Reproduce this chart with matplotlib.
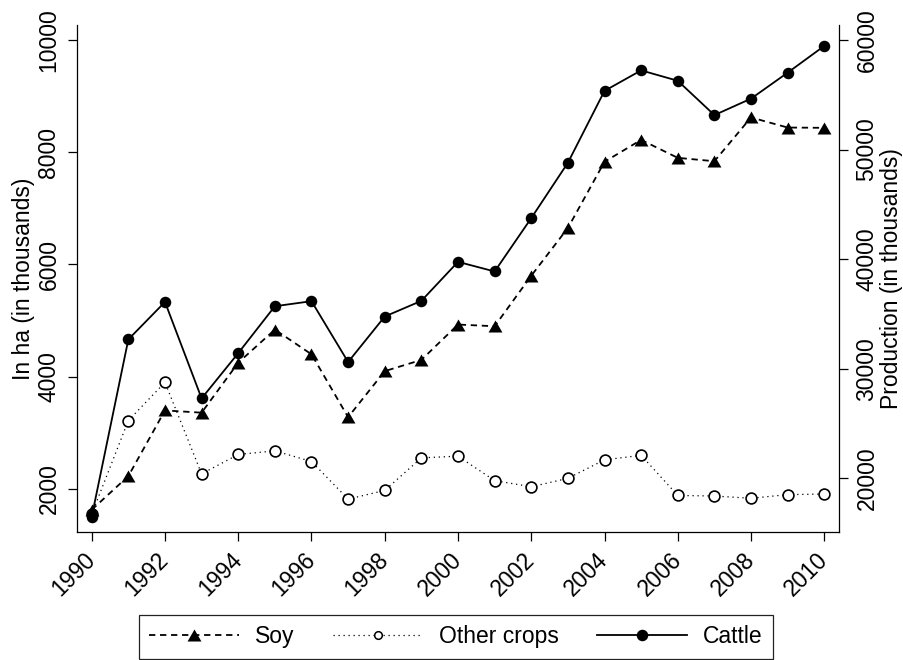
import matplotlib
matplotlib.use("Agg")
import matplotlib.pyplot as plt
from matplotlib.path import Path
from matplotlib.lines import Line2D

plt.rcParams["font.family"] = ["Liberation Sans", "DejaVu Sans"]

# Yearly series
years = list(range(1990, 2011))
soy = [1630, 2230, 3400, 3360, 4250, 4840, 4400, 3280, 4100, 4300, 4930,
       4900, 5800, 6650, 7830, 8220, 7900, 7840, 8620, 8440, 8435]
other_crops = [1550, 3220, 3900, 2270, 2615, 2680, 2490, 1820, 1975, 2555, 2585,
               2150, 2040, 2190, 2520, 2600, 1885, 1875, 1835, 1900, 1910]
cattle = [16500, 32680, 36100, 27300, 31430, 35710, 36170, 30620, 34770, 36200, 39760,
          38880, 43750, 48800, 55360, 57230, 56280, 53150, 54650, 57020, 59460]

left_ticks = [2000, 4000, 6000, 8000, 10000]
right_ticks = [20000, 30000, 40000, 50000, 60000]
x_ticks = list(range(1990, 2011, 2))

FS = 16.5
tri = Path([(-1, -0.866), (1, -0.866), (0, 0.866), (-1, -0.866)],
           [Path.MOVETO, Path.LINETO, Path.LINETO, Path.CLOSEPOLY])

soy_style = dict(color="black", lw=1.3, linestyle=(0, (3.5, 2.6)),
                 marker=tri, ms=10, mfc="black", mec="black", mew=0)
oth_style = dict(color="black", lw=0.9, linestyle=(0, (1, 3)),
                 marker="o", mfc="white", mec="black")
cat_style = dict(color="black", lw=1.3, linestyle="-",
                 marker="o", ms=8.3, mfc="black", mec="black", mew=0)

fig = plt.figure(figsize=(9.04, 6.6), dpi=100)
ax = fig.add_axes([76.7 / 904, 128 / 660, 762.6 / 904, 507 / 660])
ax2 = ax.twinx()

ax.plot(years, other_crops, ms=7.8, mew=1.2, zorder=2, **oth_style)
ax.plot(years, soy, zorder=3, **soy_style)
ax2.plot(years, cattle, **cat_style)

ax.set_xlim(1989.59, 2010.41)
ax.set_ylim(1234, 10267)
ax2.set_ylim(15110, 61370)

ax.set_xticks(x_ticks)
ax.set_xticklabels([str(t) for t in x_ticks], rotation=45, ha="right",
                   va="center", rotation_mode="anchor", fontsize=FS)
ax.set_yticks(left_ticks)
ax.set_yticklabels([str(t) for t in left_ticks], rotation=90, va="center",
                   fontsize=FS)
ax2.set_yticks(right_ticks)
ax2.set_yticklabels([str(t) for t in right_ticks], rotation=90, va="center",
                    fontsize=FS)

for a in (ax, ax2):
    a.spines["top"].set_visible(False)
    for s in ("left", "right", "bottom"):
        a.spines[s].set_linewidth(0.9)
ax.spines["right"].set_visible(False)
ax2.spines["left"].set_visible(False)
ax2.spines["bottom"].set_visible(False)

ax.tick_params(axis="x", length=6.7, width=0.9, pad=11)
ax.tick_params(axis="y", length=6.7, width=0.9, pad=5)
ax2.tick_params(axis="y", length=6.7, width=0.9, pad=5)

ax.set_ylabel("In ha (in thousands)", fontsize=FS)
ax.yaxis.set_label_coords(-0.055, 0.5)
ax2.set_ylabel("Production (in thousands)", fontsize=FS)
ax2.yaxis.set_label_coords(1.053, 0.5)

# Legend entries (smaller hollow marker for "Other crops")
h_soy = Line2D([], [], label="Soy", **soy_style)
h_oth = Line2D([], [], ms=5.5, mew=1.1, label="Other crops", **oth_style)
h_cat = Line2D([], [], label="Cattle", **cat_style)

leg = fig.legend(handles=[h_soy, h_oth, h_cat], loc="upper center",
                 bbox_to_anchor=(455.8 / 904, 1 - 615 / 660), ncol=3,
                 fontsize=FS, frameon=True, fancybox=False, framealpha=1,
                 edgecolor="#222222", handlelength=3.9, handletextpad=0.7,
                 columnspacing=1.7, borderpad=0.45, borderaxespad=0)
leg.get_frame().set_linewidth(0.9)

fig.savefig("out.png", dpi=100)
